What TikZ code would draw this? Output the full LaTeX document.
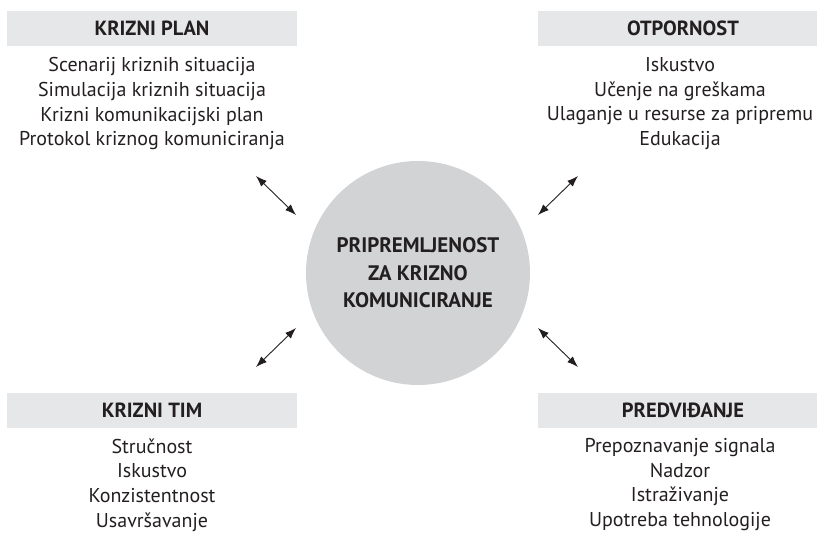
\documentclass[tikz,border=0pt]{standalone}
\usepackage{fontspec}
\setmainfont{PT Sans}
\usetikzlibrary{positioning,arrows.meta}
\definecolor{bargray}{HTML}{E6E7E8}
\definecolor{hubgray}{HTML}{D1D3D4}
\definecolor{ink}{HTML}{231F20}

\begin{document}
\begin{tikzpicture}
  [
      x=1pt, y=-1pt,
      head/.style={rectangle, fill=bargray, minimum width=290pt, minimum height=35pt, inner sep=0pt,
        text=ink, font=\fontsize{20.5}{24}\selectfont\bfseries},
      items/.style={align=center, inner sep=0pt, text=ink, font=\fontsize{20}{24.7}\selectfont},
      hub/.style={circle, fill=hubgray, minimum size=224pt, inner sep=0pt, align=center,
        text=ink, font=\fontsize{21}{27.5}\selectfont\bfseries},
      dbl/.style={{Latex[length=11pt,width=8pt]}-{Latex[length=11pt,width=8pt]}, line width=0.9pt, draw=ink},
    ]
    \useasboundingbox (0,0) rectangle (817,537);

    % centre
    \node (c) [hub] at (418,273) {PRIPREMLJENOST\\ZA KRIZNO\\KOMUNICIRANJE};

    % four groups
    \node (kp) [head] at (152,28.5) {KRIZNI PLAN};
    \node (kpl) [items, below=11pt of kp] {Scenarij kriznih situacija\\Simulacija kriznih situacija\\Krizni komunikacijski plan\\Protokol kriznog komuniciranja};
    \node (ot) [head] at (683,28.5) {OTPORNOST};
    \node (otl) [items, below=11pt of ot, xshift=-3pt] {Iskustvo\\Učenje na greškama\\Ulaganje u resurse za pripremu\\Edukacija};
    \node (kt) [head] at (152,410.5) {KRIZNI TIM};
    \node (ktl) [items, below=10pt of kt] {Stručnost\\Iskustvo\\Konzistentnost\\Usavršavanje};
    \node (pr) [head] at (683,410.5) {PREDVIĐANJE};
    \node (prl) [items, below=10pt of pr, xshift=-3pt] {Prepoznavanje signala\\Nadzor\\Istraživanje\\Upotreba tehnologije};

    % arrow ends
    \coordinate (a1) at (256,176);
    \coordinate (b1) at (296,215);
    \coordinate (a2) at (578,176);
    \coordinate (b2) at (538,215);
    \coordinate (a3) at (256,367);
    \coordinate (b3) at (296,328);
    \coordinate (a4) at (578,367);
    \coordinate (b4) at (538,328);
    \foreach \i in {1,...,4}
      \draw [dbl] (a\i) -- (b\i);
  \end{tikzpicture}
\end{document}
